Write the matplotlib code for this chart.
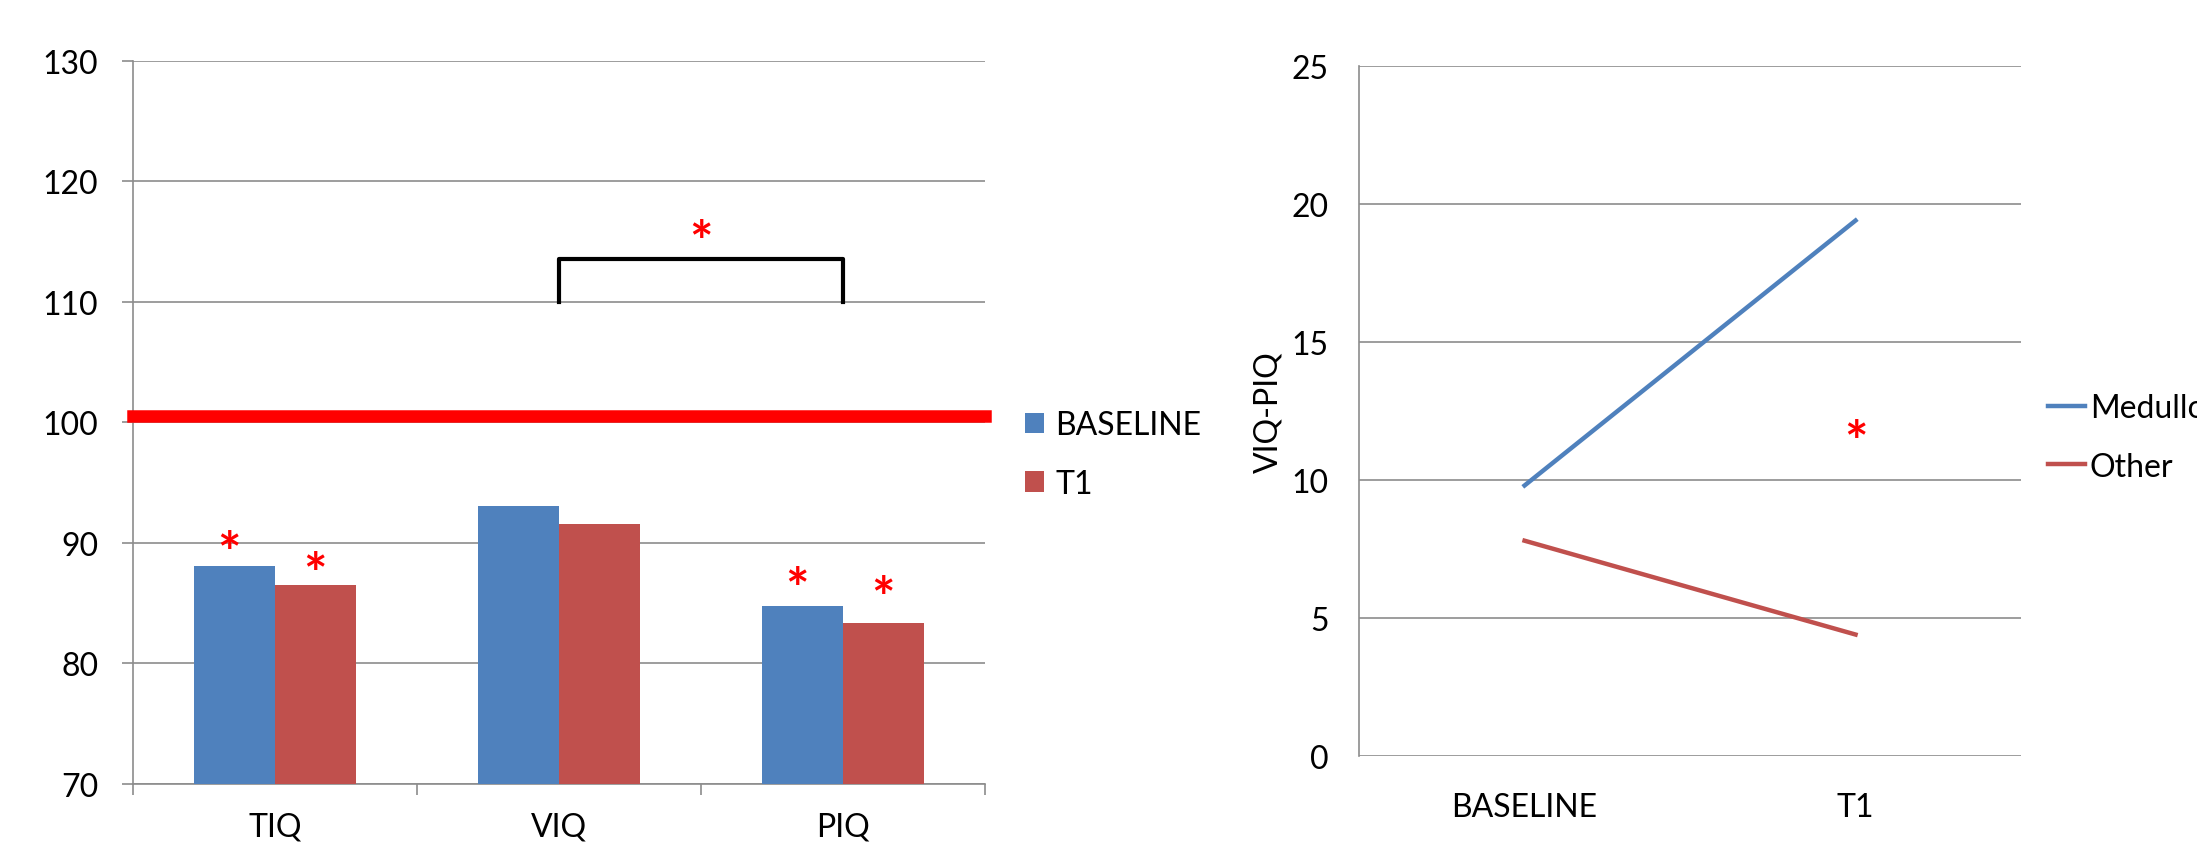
import numpy as np
import matplotlib
matplotlib.use('Agg')
import matplotlib.pyplot as plt
from matplotlib.patches import Patch
from matplotlib.transforms import offset_copy

plt.rcParams['font.family'] = ['Lato', 'DejaVu Sans']

# left panel: IQ scores
categories = ['TIQ', 'VIQ', 'PIQ']
baseline = [88.1, 93.1, 84.8]
t1 = [86.5, 91.6, 83.4]
norm_level = 100.5
star_baseline = [90.3, None, 87.3]
star_t1 = [88.5, None, 86.5]
bracket = (1, 2, 110, 113.6)
bracket_star = 116.1

# right panel: VIQ-PIQ discrepancy
timepoints = ['BASELINE', 'T1']
medullo = [9.8, 19.4]
other = [7.8, 4.4]
diff_star = (1, 11.85)

blue = '#4F81BD'
red = '#C0504D'
grid_c = '#8C8C8C'
fs = 23

fig = plt.figure(figsize=(21.97, 8.54), dpi=100)


def star(a, xx, yy):
    # asterisk glyph sits high in its box, pull it down so (xx, yy) is its centre
    tr = offset_copy(a.transData, fig=fig, x=0, y=-11, units='points')
    a.text(xx, yy, '*', color='#FF0000', fontsize=40, fontweight='bold',
           ha='center', va='center', transform=tr, zorder=6)


# ---------------- left bar chart
ax = fig.add_axes([0.0605, 0.0808, 0.3878, 0.8466])
x = np.arange(len(categories))
w = 0.285
ax.bar(x - w / 2, baseline, w, color=blue, zorder=3, label='BASELINE')
ax.bar(x + w / 2, t1, w, color=red, zorder=3, label='T1')
ax.axhline(norm_level, color='#FF0000', linewidth=9, zorder=4, clip_on=False)

for i in range(len(categories)):
    if star_baseline[i] is not None:
        star(ax, x[i] - w / 2 - 0.02, star_baseline[i])
    if star_t1[i] is not None:
        star(ax, x[i] + w / 2, star_t1[i])

bx0, bx1, by0, by1 = bracket
ax.plot([bx0, bx0, bx1, bx1], [by0, by1, by1, by0], color='k', linewidth=3, zorder=5)
star(ax, (bx0 + bx1) / 2, bracket_star)

ax.set_xlim(-0.5, 2.5)
ax.set_ylim(70, 130)
ax.set_yticks(np.arange(70, 131, 10))
ax.set_xticks(x)
ax.set_xticklabels(categories)
ax.set_xticks([-0.5, 0.5, 1.5, 2.5], minor=True)
ax.tick_params(axis='x', which='major', length=0, pad=20, labelsize=fs)
ax.tick_params(axis='x', which='minor', length=8, color=grid_c, width=1.2)
ax.tick_params(axis='y', length=8, color=grid_c, width=1.2, pad=17, labelsize=fs)
ax.yaxis.grid(True, color=grid_c, linewidth=1.2, zorder=0)
ax.set_axisbelow(True)
for s in ['top', 'right']:
    ax.spines[s].set_visible(False)
for s in ['left', 'bottom']:
    ax.spines[s].set_color(grid_c)
    ax.spines[s].set_linewidth(1.2)

handles = [Patch(facecolor=blue), Patch(facecolor=red)]
ax.legend(handles, ['BASELINE', 'T1'], loc='center left', bbox_to_anchor=(1.047, 0.456),
          frameon=False, fontsize=fs, handlelength=0.6, handleheight=0.6,
          handletextpad=0.35, labelspacing=0.9, borderpad=0, borderaxespad=0)

# ---------------- right line chart
ax2 = fig.add_axes([0.6186, 0.1136, 0.3013, 0.808])
xp = np.arange(len(timepoints))
ax2.plot(xp, medullo, color=blue, linewidth=3.2, label='Medulloblastoma')
ax2.plot(xp, other, color=red, linewidth=3.2, label='Other')
star(ax2, diff_star[0], diff_star[1])

ax2.set_xlim(-0.5, 1.5)
ax2.set_ylim(0, 25)
ax2.set_yticks(np.arange(0, 26, 5))
ax2.set_xticks(xp)
ax2.set_xticklabels(timepoints)
ax2.tick_params(axis='x', length=0, pad=26, labelsize=fs)
ax2.tick_params(axis='y', length=0, pad=22, labelsize=fs)
ax2.set_ylabel('VIQ-PIQ', fontsize=fs, labelpad=6)
ax2.yaxis.grid(True, color=grid_c, linewidth=1.2, zorder=0)
ax2.set_axisbelow(True)
for s in ['top', 'right', 'bottom']:
    ax2.spines[s].set_visible(False)
ax2.spines['left'].set_color(grid_c)
ax2.spines['left'].set_linewidth(1.2)

ax2.legend(loc='center left', bbox_to_anchor=(1.041, 0.462), frameon=False, fontsize=fs,
           handlelength=1.15, handletextpad=0.15, labelspacing=0.9, borderpad=0,
           borderaxespad=0)

plt.savefig('out.png', dpi=100)
